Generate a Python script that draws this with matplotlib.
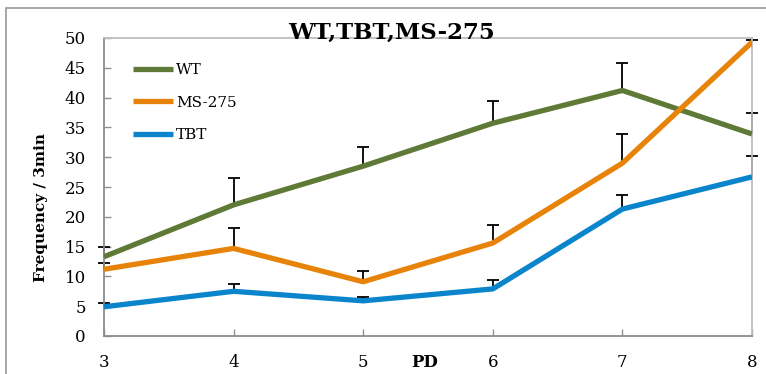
import matplotlib
matplotlib.use("Agg")
import matplotlib.pyplot as plt
from matplotlib.patches import Rectangle

plt.rcParams['font.family'] = ['DejaVu Serif']

# postnatal day
pd_days = [3, 4, 5, 6, 7, 8]

wt_mean = [13.3, 22.0, 28.5, 35.7, 41.2, 33.9]
wt_err = [1.7, 4.5, 3.2, 3.7, 4.6, 3.5]

ms275_mean = [11.2, 14.7, 9.1, 15.6, 29.0, 49.3]
ms275_err = [1.0, 3.5, 1.8, 3.1, 4.9, 0.4]

tbt_mean = [4.9, 7.5, 5.9, 7.9, 21.3, 26.7]
tbt_err = [0.6, 1.2, 0.6, 1.5, 2.4, 3.5]

series = [
    ("WT", wt_mean, wt_err, "#5f7a36"),
    ("MS-275", ms275_mean, ms275_err, "#e8830a"),
    ("TBT", tbt_mean, tbt_err, "#0a85cc"),
]

fig = plt.figure(figsize=(7.66, 3.74), dpi=100)
ax = fig.add_axes([104 / 766, 1 - 336 / 374, 648 / 766, 298 / 374])

# outer chart frame
fig.add_artist(Rectangle((6 / 766, -0.2), 2, 1.2 - 8 / 374, fill=False,
                         edgecolor="#a0a0a0", lw=1.3, transform=fig.transFigure))

for name, mean, err, color in series:
    # upper-only error bars with a cap at the top
    tops = [m + e for m, e in zip(mean, err)]
    ax.vlines(pd_days, mean, tops, color="black", lw=1.3, zorder=2,
              clip_on=False)
    ax.plot(pd_days, tops, ls="none", marker="_", ms=9, mew=1.3,
            color="black", zorder=2, clip_on=False)
    ax.plot(pd_days, mean, color=color, lw=3.8, label=name, zorder=3,
            solid_capstyle="butt")

ax.set_xlim(3, 8)
ax.set_ylim(0, 50)
ax.set_xticks(pd_days)
ax.set_yticks(range(0, 51, 5))
ax.tick_params(direction="in", length=5, width=1, color="#909090",
               labelsize=12, pad=13)

for side in ["left", "bottom"]:
    ax.spines[side].set_color("#8c8c8c")
    ax.spines[side].set_linewidth(1.3)
for side in ["top", "right"]:
    ax.spines[side].set_color("#bdbdbd")
    ax.spines[side].set_linewidth(1.3)

ax.set_ylabel("Frequency / 3min", fontsize=11, fontweight="bold")
ax.yaxis.set_label_coords(-0.087, 0.43)
ax.text(0.495, -0.088, "PD", transform=ax.transAxes, ha="center", va="center",
        fontsize=12, fontweight="bold")

fig.text(391 / 766, 1 - 39 / 374, "WT,TBT,MS-275", ha="center", va="baseline",
         fontsize=16.5, fontweight="bold")

ax.legend(loc="upper left", bbox_to_anchor=((133 - 104) / 648, 1 - 25 / 298),
          frameon=False, fontsize=11, handlelength=2.6, handletextpad=0.2,
          labelspacing=1.22, borderpad=0, borderaxespad=0)

fig.savefig("out.png", dpi=100)
